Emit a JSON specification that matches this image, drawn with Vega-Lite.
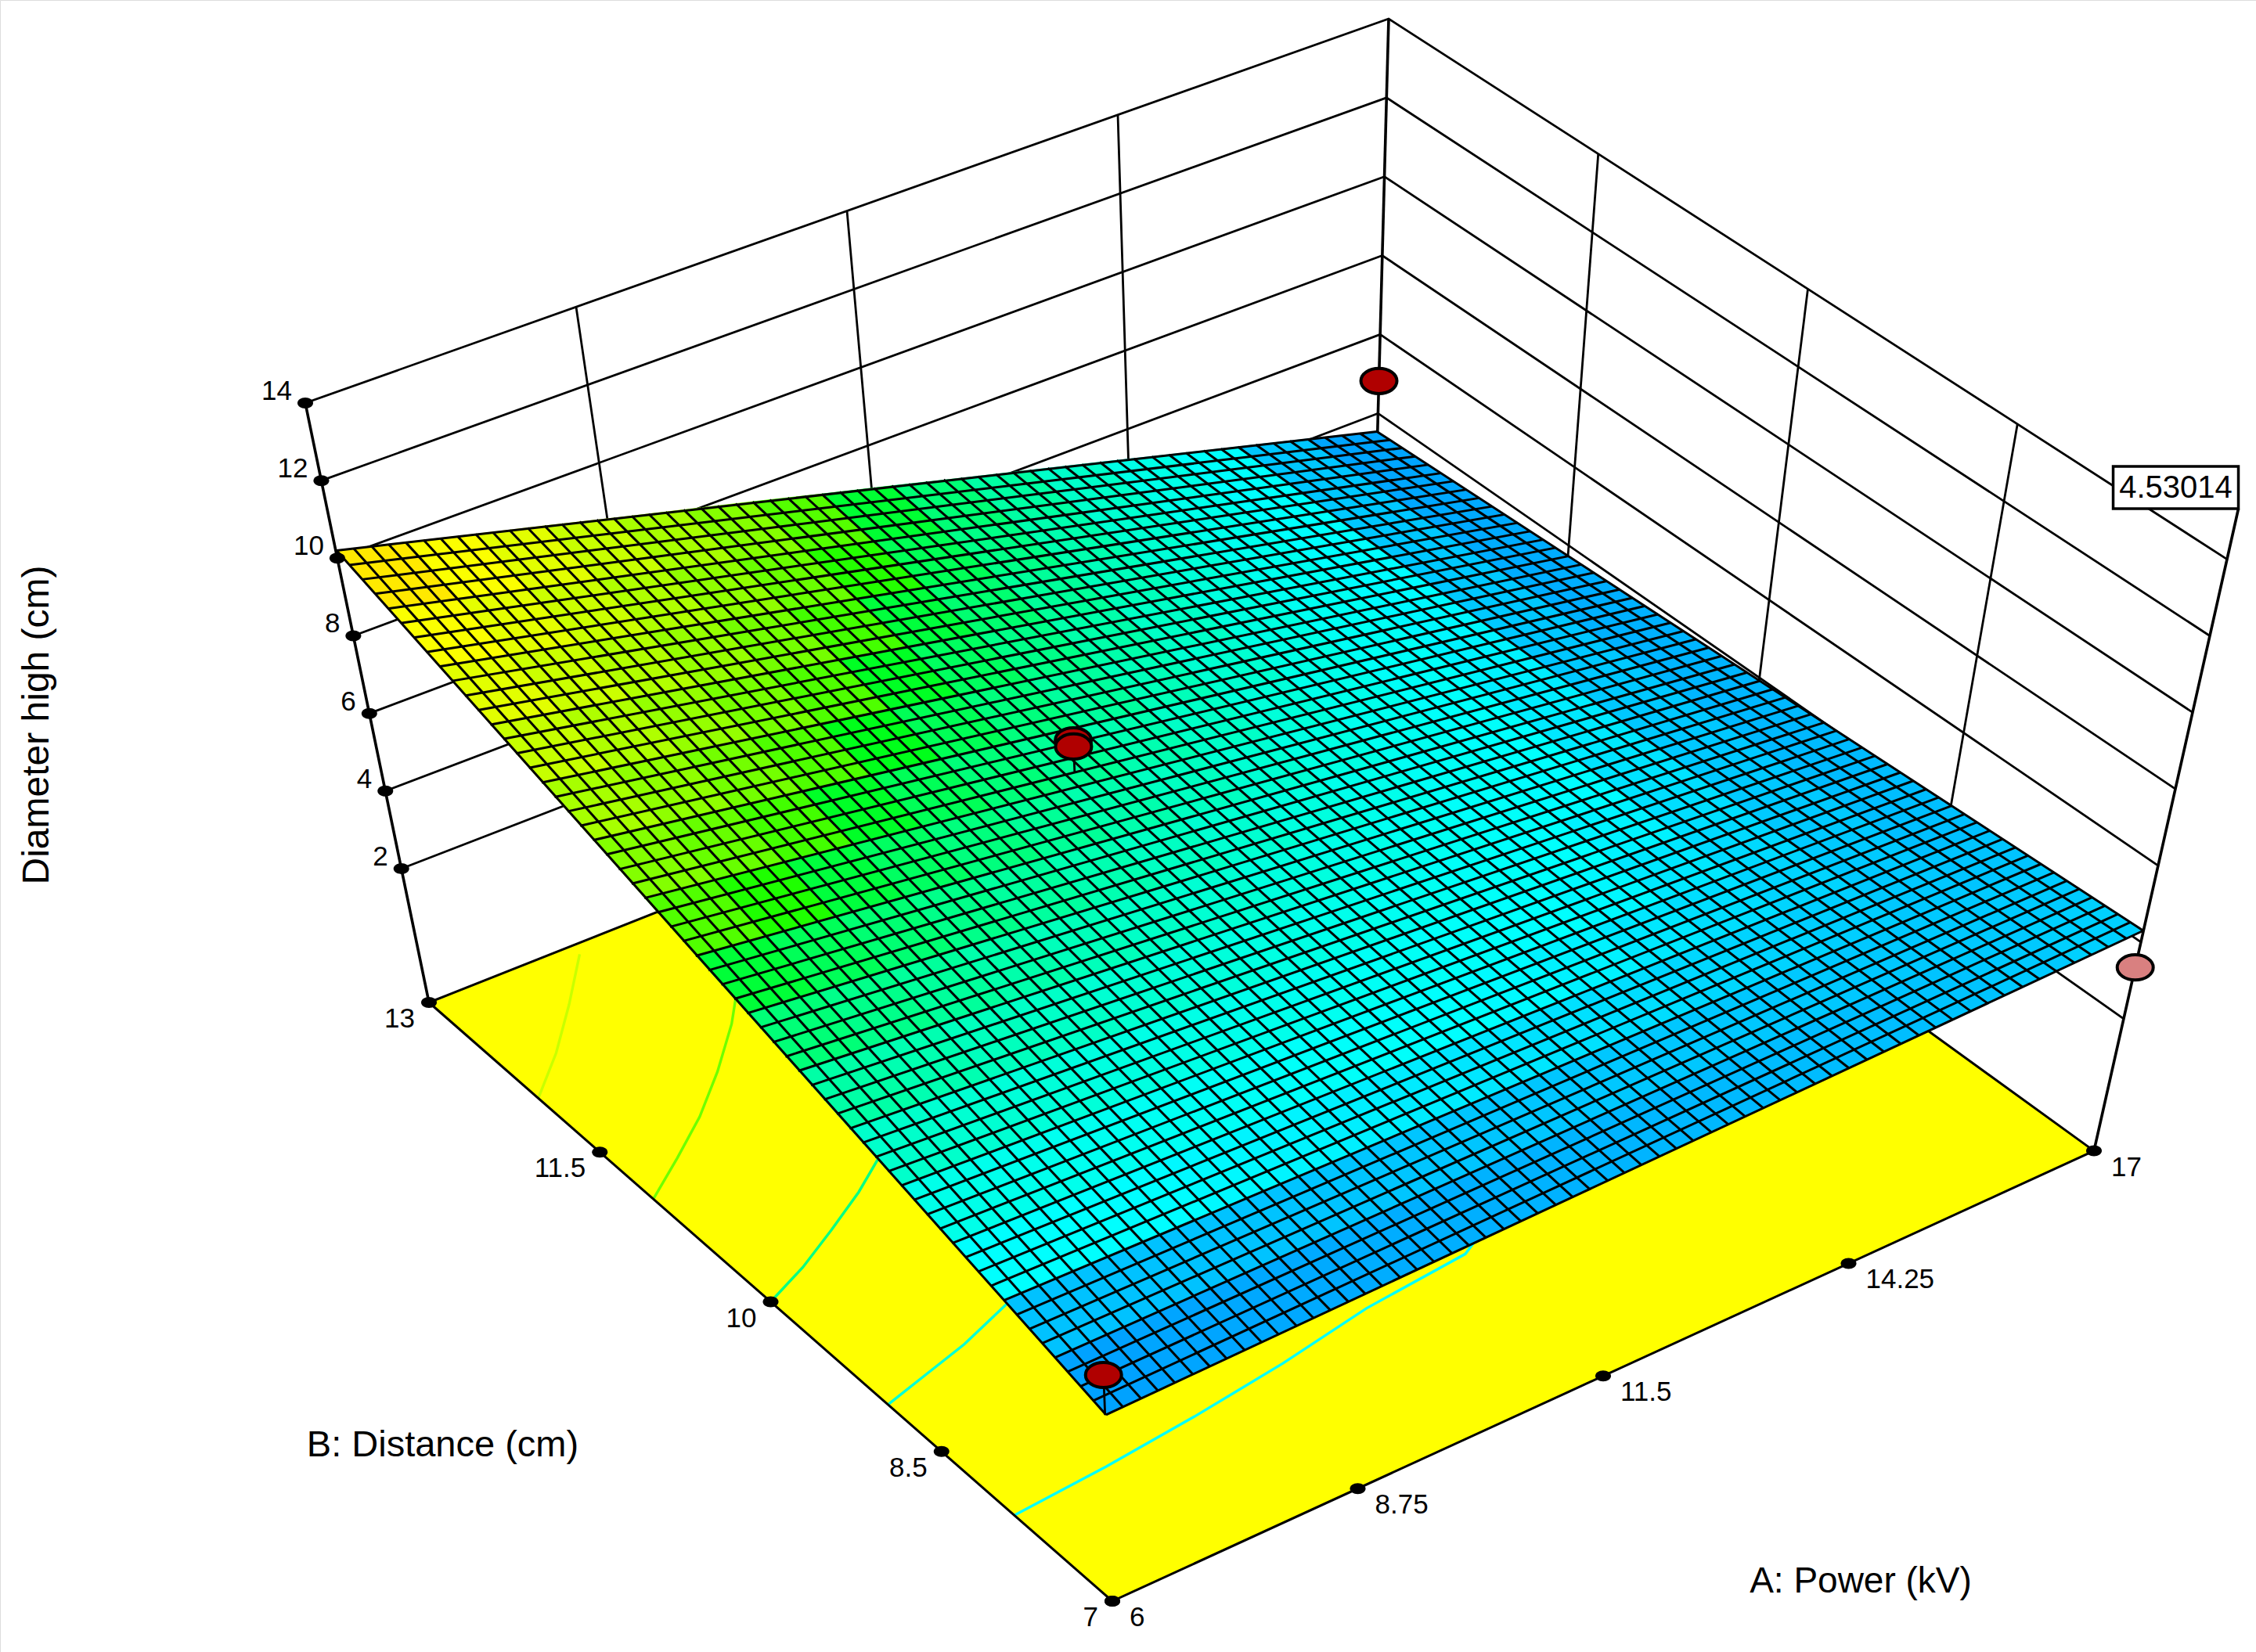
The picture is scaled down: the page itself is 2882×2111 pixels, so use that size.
{"$schema":"https://vega.github.io/schema/vega-lite/v6.json","width":2882,"height":2111,"padding":0,"autosize":{"type":"fit","contains":"padding"},"background":"white",
"datasets":{
"frame":[
{"k":"wall","g":"z14","A":[6,17,17],"B":[13,13,7],"z":[14,14,14]},
{"k":"wall","g":"z12","A":[6,17,17],"B":[13,13,7],"z":[12,12,12]},
{"k":"wall","g":"z10","A":[6,17,17],"B":[13,13,7],"z":[10,10,10]},
{"k":"wall","g":"z8","A":[6,17,17],"B":[13,13,7],"z":[8,8,8]},
{"k":"wall","g":"z6","A":[6,17,17],"B":[13,13,7],"z":[6,6,6]},
{"k":"wall","g":"z4","A":[6,17,17],"B":[13,13,7],"z":[4,4,4]},
{"k":"wall","g":"z2","A":[6,17,17],"B":[13,13,7],"z":[2,2,2]},
{"k":"wall","g":"a1","A":[8.75,8.75],"B":[13,13],"z":[-1.45,14]},
{"k":"wall","g":"a2","A":[11.5,11.5],"B":[13,13],"z":[-1.45,14]},
{"k":"wall","g":"a3","A":[14.25,14.25],"B":[13,13],"z":[-1.45,14]},
{"k":"wall","g":"b1","A":[17,17],"B":[8.5,8.5],"z":[-1.45,14]},
{"k":"wall","g":"b2","A":[17,17],"B":[10,10],"z":[-1.45,14]},
{"k":"wall","g":"b3","A":[17,17],"B":[11.5,11.5],"z":[-1.45,14]},
{"k":"floor","g":"f","A":[6,17,17,6],"B":[7,7,13,13],"z":[-1.45,-1.45,-1.45,-1.45]},
{"k":"cont","g":"c1","c":4.55,"A":[6,7.1,8.2,9.3,10.4,11.61,13.7,14.8],"B":[7.86,7.91,7.98,8.07,8.19,8.26,8.92,10],"z":[-1.45,-1.45,-1.45,-1.45,-1.45,-1.45,-1.45,-1.45]},
{"k":"cont","g":"c2","c":5.3,"A":[6,6.55,7.1,7.65,8.2,10.4],"B":[8.97,9.06,9.15,9.27,9.39,10.13],"z":[-1.45,-1.45,-1.45,-1.45,-1.45,-1.45]},
{"k":"cont","g":"c3","c":6.2,"A":[6,6.55,7.1,7.65,8.2,8.75,9.3],"B":[10,10.14,10.31,10.49,10.7,10.94,11.22],"z":[-1.45,-1.45,-1.45,-1.45,-1.45,-1.45,-1.45]},
{"k":"cont","g":"c4","c":7.4,"A":[6,6.55,7.1,7.65,8.2,8.75,9.3],"B":[11.03,11.24,11.46,11.72,12.01,12.35,12.74],"z":[-1.45,-1.45,-1.45,-1.45,-1.45,-1.45,-1.45]},
{"k":"cont","g":"c5","c":8.5,"A":[6,6.55,7.1,7.65],"B":[12.04,12.3,12.6,12.92],"z":[-1.45,-1.45,-1.45,-1.45]},
{"k":"edge","g":"back","A":[6,17,17],"B":[13,13,7],"z":[-1.45,-1.45,-1.45]},
{"k":"edge","g":"e1","A":[6,17],"B":[7,7],"z":[-1.45,-1.45]},
{"k":"edge","g":"e2","A":[6,6],"B":[7,13],"z":[-1.45,-1.45]},
{"k":"pole","g":"p1","A":[6,6],"B":[13,13],"z":[-1.45,14]},
{"k":"pole","g":"p2","A":[17,17],"B":[13,13],"z":[-1.45,14]},
{"k":"pole","g":"p3","A":[17,17],"B":[7,7],"z":[-1.45,15.32]},
{"k":"drop","g":"d1","A":[6,6],"B":[7,7],"z":[3.5,4.56]},
{"k":"drop","g":"d2","A":[10.57,10.57],"B":[10.72,10.72],"z":[6.07,6.73]}
],
"mesh":[
{"g":"a0","A":[6,6],"B":[7,13],"z":[3.5,10.2]},{"g":"a1","A":[6.18,6.18],"B":[7,13],"z":[3.51,10.09]},{"g":"a2","A":[6.37,6.37],"B":[7,13],"z":[3.53,9.98]},{"g":"a3","A":[6.55,6.55],"B":[7,13],"z":[3.54,9.87]},{"g":"a4","A":[6.73,6.73],"B":[7,13],"z":[3.55,9.76]},{"g":"a5","A":[6.92,6.92],"B":[7,13],"z":[3.57,9.65]},{"g":"a6","A":[7.1,7.1],"B":[7,13],"z":[3.58,9.53]},{"g":"a7","A":[7.28,7.28],"B":[7,13],"z":[3.59,9.42]},{"g":"a8","A":[7.47,7.47],"B":[7,13],"z":[3.61,9.31]},{"g":"a9","A":[7.65,7.65],"B":[7,13],"z":[3.62,9.2]},
{"g":"a10","A":[7.83,7.83],"B":[7,13],"z":[3.63,9.09]},{"g":"a11","A":[8.02,8.02],"B":[7,13],"z":[3.65,8.98]},{"g":"a12","A":[8.2,8.2],"B":[7,13],"z":[3.66,8.87]},{"g":"a13","A":[8.38,8.38],"B":[7,13],"z":[3.67,8.76]},{"g":"a14","A":[8.57,8.57],"B":[7,13],"z":[3.69,8.65]},{"g":"a15","A":[8.75,8.75],"B":[7,13],"z":[3.7,8.54]},{"g":"a16","A":[8.93,8.93],"B":[7,13],"z":[3.71,8.42]},{"g":"a17","A":[9.12,9.12],"B":[7,13],"z":[3.73,8.31]},{"g":"a18","A":[9.3,9.3],"B":[7,13],"z":[3.74,8.2]},{"g":"a19","A":[9.48,9.48],"B":[7,13],"z":[3.75,8.09]},
{"g":"a20","A":[9.67,9.67],"B":[7,13],"z":[3.77,7.98]},{"g":"a21","A":[9.85,9.85],"B":[7,13],"z":[3.78,7.87]},{"g":"a22","A":[10.03,10.03],"B":[7,13],"z":[3.79,7.76]},{"g":"a23","A":[10.22,10.22],"B":[7,13],"z":[3.81,7.65]},{"g":"a24","A":[10.4,10.4],"B":[7,13],"z":[3.82,7.54]},{"g":"a25","A":[10.58,10.58],"B":[7,13],"z":[3.83,7.43]},{"g":"a26","A":[10.77,10.77],"B":[7,13],"z":[3.85,7.31]},{"g":"a27","A":[10.95,10.95],"B":[7,13],"z":[3.86,7.2]},{"g":"a28","A":[11.13,11.13],"B":[7,13],"z":[3.87,7.09]},{"g":"a29","A":[11.32,11.32],"B":[7,13],"z":[3.89,6.98]},
{"g":"a30","A":[11.5,11.5],"B":[7,13],"z":[3.9,6.87]},{"g":"a31","A":[11.68,11.68],"B":[7,13],"z":[3.91,6.76]},{"g":"a32","A":[11.87,11.87],"B":[7,13],"z":[3.93,6.65]},{"g":"a33","A":[12.05,12.05],"B":[7,13],"z":[3.94,6.54]},{"g":"a34","A":[12.23,12.23],"B":[7,13],"z":[3.95,6.43]},{"g":"a35","A":[12.42,12.42],"B":[7,13],"z":[3.97,6.32]},{"g":"a36","A":[12.6,12.6],"B":[7,13],"z":[3.98,6.2]},{"g":"a37","A":[12.78,12.78],"B":[7,13],"z":[3.99,6.09]},{"g":"a38","A":[12.97,12.97],"B":[7,13],"z":[4.01,5.98]},{"g":"a39","A":[13.15,13.15],"B":[7,13],"z":[4.02,5.87]},
{"g":"a40","A":[13.33,13.33],"B":[7,13],"z":[4.03,5.76]},{"g":"a41","A":[13.52,13.52],"B":[7,13],"z":[4.05,5.65]},{"g":"a42","A":[13.7,13.7],"B":[7,13],"z":[4.06,5.54]},{"g":"a43","A":[13.88,13.88],"B":[7,13],"z":[4.07,5.43]},{"g":"a44","A":[14.07,14.07],"B":[7,13],"z":[4.09,5.32]},{"g":"a45","A":[14.25,14.25],"B":[7,13],"z":[4.1,5.21]},{"g":"a46","A":[14.43,14.43],"B":[7,13],"z":[4.11,5.09]},{"g":"a47","A":[14.62,14.62],"B":[7,13],"z":[4.13,4.98]},{"g":"a48","A":[14.8,14.8],"B":[7,13],"z":[4.14,4.87]},{"g":"a49","A":[14.98,14.98],"B":[7,13],"z":[4.15,4.76]},
{"g":"a50","A":[15.17,15.17],"B":[7,13],"z":[4.17,4.65]},{"g":"a51","A":[15.35,15.35],"B":[7,13],"z":[4.18,4.54]},{"g":"a52","A":[15.53,15.53],"B":[7,13],"z":[4.19,4.43]},{"g":"a53","A":[15.72,15.72],"B":[7,13],"z":[4.21,4.32]},{"g":"a54","A":[15.9,15.9],"B":[7,13],"z":[4.22,4.21]},{"g":"a55","A":[16.08,16.08],"B":[7,13],"z":[4.23,4.1]},{"g":"a56","A":[16.27,16.27],"B":[7,13],"z":[4.25,3.98]},{"g":"a57","A":[16.45,16.45],"B":[7,13],"z":[4.26,3.87]},{"g":"a58","A":[16.63,16.63],"B":[7,13],"z":[4.27,3.76]},{"g":"a59","A":[16.82,16.82],"B":[7,13],"z":[4.29,3.65]},{"g":"a60","A":[17,17],"B":[7,13],"z":[4.3,3.54]},
{"g":"b0","A":[6,17],"B":[7,7],"z":[3.5,4.3]},{"g":"b1","A":[6,17],"B":[7.1,7.1],"z":[3.61,4.29]},{"g":"b2","A":[6,17],"B":[7.2,7.2],"z":[3.72,4.27]},{"g":"b3","A":[6,17],"B":[7.3,7.3],"z":[3.84,4.26]},{"g":"b4","A":[6,17],"B":[7.4,7.4],"z":[3.95,4.25]},{"g":"b5","A":[6,17],"B":[7.5,7.5],"z":[4.06,4.24]},{"g":"b6","A":[6,17],"B":[7.6,7.6],"z":[4.17,4.22]},{"g":"b7","A":[6,17],"B":[7.7,7.7],"z":[4.28,4.21]},{"g":"b8","A":[6,17],"B":[7.8,7.8],"z":[4.39,4.2]},{"g":"b9","A":[6,17],"B":[7.9,7.9],"z":[4.51,4.19]},
{"g":"b10","A":[6,17],"B":[8,8],"z":[4.62,4.17]},{"g":"b11","A":[6,17],"B":[8.1,8.1],"z":[4.73,4.16]},{"g":"b12","A":[6,17],"B":[8.2,8.2],"z":[4.84,4.15]},{"g":"b13","A":[6,17],"B":[8.3,8.3],"z":[4.95,4.14]},{"g":"b14","A":[6,17],"B":[8.4,8.4],"z":[5.06,4.12]},{"g":"b15","A":[6,17],"B":[8.5,8.5],"z":[5.18,4.11]},{"g":"b16","A":[6,17],"B":[8.6,8.6],"z":[5.29,4.1]},{"g":"b17","A":[6,17],"B":[8.7,8.7],"z":[5.4,4.08]},{"g":"b18","A":[6,17],"B":[8.8,8.8],"z":[5.51,4.07]},{"g":"b19","A":[6,17],"B":[8.9,8.9],"z":[5.62,4.06]},
{"g":"b20","A":[6,17],"B":[9,9],"z":[5.73,4.05]},{"g":"b21","A":[6,17],"B":[9.1,9.1],"z":[5.85,4.03]},{"g":"b22","A":[6,17],"B":[9.2,9.2],"z":[5.96,4.02]},{"g":"b23","A":[6,17],"B":[9.3,9.3],"z":[6.07,4.01]},{"g":"b24","A":[6,17],"B":[9.4,9.4],"z":[6.18,4]},{"g":"b25","A":[6,17],"B":[9.5,9.5],"z":[6.29,3.98]},{"g":"b26","A":[6,17],"B":[9.6,9.6],"z":[6.4,3.97]},{"g":"b27","A":[6,17],"B":[9.7,9.7],"z":[6.52,3.96]},{"g":"b28","A":[6,17],"B":[9.8,9.8],"z":[6.63,3.95]},{"g":"b29","A":[6,17],"B":[9.9,9.9],"z":[6.74,3.93]},
{"g":"b30","A":[6,17],"B":[10,10],"z":[6.85,3.92]},{"g":"b31","A":[6,17],"B":[10.1,10.1],"z":[6.96,3.91]},{"g":"b32","A":[6,17],"B":[10.2,10.2],"z":[7.07,3.89]},{"g":"b33","A":[6,17],"B":[10.3,10.3],"z":[7.19,3.88]},{"g":"b34","A":[6,17],"B":[10.4,10.4],"z":[7.3,3.87]},{"g":"b35","A":[6,17],"B":[10.5,10.5],"z":[7.41,3.86]},{"g":"b36","A":[6,17],"B":[10.6,10.6],"z":[7.52,3.84]},{"g":"b37","A":[6,17],"B":[10.7,10.7],"z":[7.63,3.83]},{"g":"b38","A":[6,17],"B":[10.8,10.8],"z":[7.74,3.82]},{"g":"b39","A":[6,17],"B":[10.9,10.9],"z":[7.86,3.81]},
{"g":"b40","A":[6,17],"B":[11,11],"z":[7.97,3.79]},{"g":"b41","A":[6,17],"B":[11.1,11.1],"z":[8.08,3.78]},{"g":"b42","A":[6,17],"B":[11.2,11.2],"z":[8.19,3.77]},{"g":"b43","A":[6,17],"B":[11.3,11.3],"z":[8.3,3.76]},{"g":"b44","A":[6,17],"B":[11.4,11.4],"z":[8.41,3.74]},{"g":"b45","A":[6,17],"B":[11.5,11.5],"z":[8.53,3.73]},{"g":"b46","A":[6,17],"B":[11.6,11.6],"z":[8.64,3.72]},{"g":"b47","A":[6,17],"B":[11.7,11.7],"z":[8.75,3.7]},{"g":"b48","A":[6,17],"B":[11.8,11.8],"z":[8.86,3.69]},{"g":"b49","A":[6,17],"B":[11.9,11.9],"z":[8.97,3.68]},
{"g":"b50","A":[6,17],"B":[12,12],"z":[9.08,3.67]},{"g":"b51","A":[6,17],"B":[12.1,12.1],"z":[9.2,3.65]},{"g":"b52","A":[6,17],"B":[12.2,12.2],"z":[9.31,3.64]},{"g":"b53","A":[6,17],"B":[12.3,12.3],"z":[9.42,3.63]},{"g":"b54","A":[6,17],"B":[12.4,12.4],"z":[9.53,3.62]},{"g":"b55","A":[6,17],"B":[12.5,12.5],"z":[9.64,3.6]},{"g":"b56","A":[6,17],"B":[12.6,12.6],"z":[9.75,3.59]},{"g":"b57","A":[6,17],"B":[12.7,12.7],"z":[9.87,3.58]},{"g":"b58","A":[6,17],"B":[12.8,12.8],"z":[9.98,3.57]},{"g":"b59","A":[6,17],"B":[12.9,12.9],"z":[10.09,3.55]},{"g":"b60","A":[6,17],"B":[13,13],"z":[10.2,3.54]}
],
"cells":[
{"a":6,"b":7,"z":[3.5,3.55,3.97,3.95]},{"a":6,"b":7.4,"z":[3.95,3.97,4.38,4.39]},{"a":6,"b":7.8,"z":[4.39,4.38,4.79,4.84]},{"a":6,"b":8.2,"z":[4.84,4.79,5.21,5.29]},{"a":6,"b":8.6,"z":[5.29,5.21,5.62,5.73]},{"a":6,"b":9,"z":[5.73,5.62,6.03,6.18]},{"a":6,"b":9.4,"z":[6.18,6.03,6.45,6.63]},{"a":6,"b":9.8,"z":[6.63,6.45,6.86,7.07]},{"a":6,"b":10.2,"z":[7.07,6.86,7.27,7.52]},{"a":6,"b":10.6,"z":[7.52,7.27,7.69,7.97]},{"a":6,"b":11,"z":[7.97,7.69,8.1,8.41]},{"a":6,"b":11.4,"z":[8.41,8.1,8.52,8.86]},{"a":6,"b":11.8,"z":[8.86,8.52,8.93,9.31]},{"a":6,"b":12.2,"z":[9.31,8.93,9.34,9.75]},{"a":6,"b":12.6,"z":[9.75,9.34,9.76,10.2]},
{"a":6.733,"b":7,"z":[3.55,3.61,3.99,3.97]},{"a":6.733,"b":7.4,"z":[3.97,3.99,4.37,4.38]},{"a":6.733,"b":7.8,"z":[4.38,4.37,4.75,4.79]},{"a":6.733,"b":8.2,"z":[4.79,4.75,5.13,5.21]},{"a":6.733,"b":8.6,"z":[5.21,5.13,5.51,5.62]},{"a":6.733,"b":9,"z":[5.62,5.51,5.89,6.03]},{"a":6.733,"b":9.4,"z":[6.03,5.89,6.27,6.45]},{"a":6.733,"b":9.8,"z":[6.45,6.27,6.65,6.86]},{"a":6.733,"b":10.2,"z":[6.86,6.65,7.03,7.27]},{"a":6.733,"b":10.6,"z":[7.27,7.03,7.41,7.69]},{"a":6.733,"b":11,"z":[7.69,7.41,7.79,8.1]},{"a":6.733,"b":11.4,"z":[8.1,7.79,8.17,8.52]},{"a":6.733,"b":11.8,"z":[8.52,8.17,8.55,8.93]},{"a":6.733,"b":12.2,"z":[8.93,8.55,8.93,9.34]},{"a":6.733,"b":12.6,"z":[9.34,8.93,9.31,9.76]},
{"a":7.467,"b":7,"z":[3.61,3.66,4.01,3.99]},{"a":7.467,"b":7.4,"z":[3.99,4.01,4.35,4.37]},{"a":7.467,"b":7.8,"z":[4.37,4.35,4.7,4.75]},{"a":7.467,"b":8.2,"z":[4.75,4.7,5.05,5.13]},{"a":7.467,"b":8.6,"z":[5.13,5.05,5.4,5.51]},{"a":7.467,"b":9,"z":[5.51,5.4,5.74,5.89]},{"a":7.467,"b":9.4,"z":[5.89,5.74,6.09,6.27]},{"a":7.467,"b":9.8,"z":[6.27,6.09,6.44,6.65]},{"a":7.467,"b":10.2,"z":[6.65,6.44,6.78,7.03]},{"a":7.467,"b":10.6,"z":[7.03,6.78,7.13,7.41]},{"a":7.467,"b":11,"z":[7.41,7.13,7.48,7.79]},{"a":7.467,"b":11.4,"z":[7.79,7.48,7.83,8.17]},{"a":7.467,"b":11.8,"z":[8.17,7.83,8.17,8.55]},{"a":7.467,"b":12.2,"z":[8.55,8.17,8.52,8.93]},{"a":7.467,"b":12.6,"z":[8.93,8.52,8.87,9.31]},
{"a":8.2,"b":7,"z":[3.66,3.71,4.03,4.01]},{"a":8.2,"b":7.4,"z":[4.01,4.03,4.34,4.35]},{"a":8.2,"b":7.8,"z":[4.35,4.34,4.66,4.7]},{"a":8.2,"b":8.2,"z":[4.7,4.66,4.97,5.05]},{"a":8.2,"b":8.6,"z":[5.05,4.97,5.28,5.4]},{"a":8.2,"b":9,"z":[5.4,5.28,5.6,5.74]},{"a":8.2,"b":9.4,"z":[5.74,5.6,5.91,6.09]},{"a":8.2,"b":9.8,"z":[6.09,5.91,6.23,6.44]},{"a":8.2,"b":10.2,"z":[6.44,6.23,6.54,6.78]},{"a":8.2,"b":10.6,"z":[6.78,6.54,6.85,7.13]},{"a":8.2,"b":11,"z":[7.13,6.85,7.17,7.48]},{"a":8.2,"b":11.4,"z":[7.48,7.17,7.48,7.83]},{"a":8.2,"b":11.8,"z":[7.83,7.48,7.8,8.17]},{"a":8.2,"b":12.2,"z":[8.17,7.8,8.11,8.52]},{"a":8.2,"b":12.6,"z":[8.52,8.11,8.42,8.87]},
{"a":8.933,"b":7,"z":[3.71,3.77,4.05,4.03]},{"a":8.933,"b":7.4,"z":[4.03,4.05,4.33,4.34]},{"a":8.933,"b":7.8,"z":[4.34,4.33,4.61,4.66]},{"a":8.933,"b":8.2,"z":[4.66,4.61,4.89,4.97]},{"a":8.933,"b":8.6,"z":[4.97,4.89,5.17,5.28]},{"a":8.933,"b":9,"z":[5.28,5.17,5.45,5.6]},{"a":8.933,"b":9.4,"z":[5.6,5.45,5.73,5.91]},{"a":8.933,"b":9.8,"z":[5.91,5.73,6.01,6.23]},{"a":8.933,"b":10.2,"z":[6.23,6.01,6.3,6.54]},{"a":8.933,"b":10.6,"z":[6.54,6.3,6.58,6.85]},{"a":8.933,"b":11,"z":[6.85,6.58,6.86,7.17]},{"a":8.933,"b":11.4,"z":[7.17,6.86,7.14,7.48]},{"a":8.933,"b":11.8,"z":[7.48,7.14,7.42,7.8]},{"a":8.933,"b":12.2,"z":[7.8,7.42,7.7,8.11]},{"a":8.933,"b":12.6,"z":[8.11,7.7,7.98,8.42]},
{"a":9.667,"b":7,"z":[3.77,3.82,4.07,4.05]},{"a":9.667,"b":7.4,"z":[4.05,4.07,4.32,4.33]},{"a":9.667,"b":7.8,"z":[4.33,4.32,4.56,4.61]},{"a":9.667,"b":8.2,"z":[4.61,4.56,4.81,4.89]},{"a":9.667,"b":8.6,"z":[4.89,4.81,5.06,5.17]},{"a":9.667,"b":9,"z":[5.17,5.06,5.31,5.45]},{"a":9.667,"b":9.4,"z":[5.45,5.31,5.55,5.73]},{"a":9.667,"b":9.8,"z":[5.73,5.55,5.8,6.01]},{"a":9.667,"b":10.2,"z":[6.01,5.8,6.05,6.3]},{"a":9.667,"b":10.6,"z":[6.3,6.05,6.3,6.58]},{"a":9.667,"b":11,"z":[6.58,6.3,6.55,6.86]},{"a":9.667,"b":11.4,"z":[6.86,6.55,6.79,7.14]},{"a":9.667,"b":11.8,"z":[7.14,6.79,7.04,7.42]},{"a":9.667,"b":12.2,"z":[7.42,7.04,7.29,7.7]},{"a":9.667,"b":12.6,"z":[7.7,7.29,7.54,7.98]},
{"a":10.4,"b":7,"z":[3.82,3.87,4.09,4.07]},{"a":10.4,"b":7.4,"z":[4.07,4.09,4.3,4.32]},{"a":10.4,"b":7.8,"z":[4.32,4.3,4.52,4.56]},{"a":10.4,"b":8.2,"z":[4.56,4.52,4.73,4.81]},{"a":10.4,"b":8.6,"z":[4.81,4.73,4.95,5.06]},{"a":10.4,"b":9,"z":[5.06,4.95,5.16,5.31]},{"a":10.4,"b":9.4,"z":[5.31,5.16,5.38,5.55]},{"a":10.4,"b":9.8,"z":[5.55,5.38,5.59,5.8]},{"a":10.4,"b":10.2,"z":[5.8,5.59,5.8,6.05]},{"a":10.4,"b":10.6,"z":[6.05,5.8,6.02,6.3]},{"a":10.4,"b":11,"z":[6.3,6.02,6.23,6.55]},{"a":10.4,"b":11.4,"z":[6.55,6.23,6.45,6.79]},{"a":10.4,"b":11.8,"z":[6.79,6.45,6.66,7.04]},{"a":10.4,"b":12.2,"z":[7.04,6.66,6.88,7.29]},{"a":10.4,"b":12.6,"z":[7.29,6.88,7.09,7.54]},
{"a":11.133,"b":7,"z":[3.87,3.93,4.11,4.09]},{"a":11.133,"b":7.4,"z":[4.09,4.11,4.29,4.3]},{"a":11.133,"b":7.8,"z":[4.3,4.29,4.47,4.52]},{"a":11.133,"b":8.2,"z":[4.52,4.47,4.65,4.73]},{"a":11.133,"b":8.6,"z":[4.73,4.65,4.83,4.95]},{"a":11.133,"b":9,"z":[4.95,4.83,5.02,5.16]},{"a":11.133,"b":9.4,"z":[5.16,5.02,5.2,5.38]},{"a":11.133,"b":9.8,"z":[5.38,5.2,5.38,5.59]},{"a":11.133,"b":10.2,"z":[5.59,5.38,5.56,5.8]},{"a":11.133,"b":10.6,"z":[5.8,5.56,5.74,6.02]},{"a":11.133,"b":11,"z":[6.02,5.74,5.92,6.23]},{"a":11.133,"b":11.4,"z":[6.23,5.92,6.11,6.45]},{"a":11.133,"b":11.8,"z":[6.45,6.11,6.29,6.66]},{"a":11.133,"b":12.2,"z":[6.66,6.29,6.47,6.88]},{"a":11.133,"b":12.6,"z":[6.88,6.47,6.65,7.09]},
{"a":11.867,"b":7,"z":[3.93,3.98,4.13,4.11]},{"a":11.867,"b":7.4,"z":[4.11,4.13,4.28,4.29]},{"a":11.867,"b":7.8,"z":[4.29,4.28,4.42,4.47]},{"a":11.867,"b":8.2,"z":[4.47,4.42,4.57,4.65]},{"a":11.867,"b":8.6,"z":[4.65,4.57,4.72,4.83]},{"a":11.867,"b":9,"z":[4.83,4.72,4.87,5.02]},{"a":11.867,"b":9.4,"z":[5.02,4.87,5.02,5.2]},{"a":11.867,"b":9.8,"z":[5.2,5.02,5.17,5.38]},{"a":11.867,"b":10.2,"z":[5.38,5.17,5.31,5.56]},{"a":11.867,"b":10.6,"z":[5.56,5.31,5.46,5.74]},{"a":11.867,"b":11,"z":[5.74,5.46,5.61,5.92]},{"a":11.867,"b":11.4,"z":[5.92,5.61,5.76,6.11]},{"a":11.867,"b":11.8,"z":[6.11,5.76,5.91,6.29]},{"a":11.867,"b":12.2,"z":[6.29,5.91,6.06,6.47]},{"a":11.867,"b":12.6,"z":[6.47,6.06,6.2,6.65]},
{"a":12.6,"b":7,"z":[3.98,4.03,4.15,4.13]},{"a":12.6,"b":7.4,"z":[4.13,4.15,4.26,4.28]},{"a":12.6,"b":7.8,"z":[4.28,4.26,4.38,4.42]},{"a":12.6,"b":8.2,"z":[4.42,4.38,4.49,4.57]},{"a":12.6,"b":8.6,"z":[4.57,4.49,4.61,4.72]},{"a":12.6,"b":9,"z":[4.72,4.61,4.72,4.87]},{"a":12.6,"b":9.4,"z":[4.87,4.72,4.84,5.02]},{"a":12.6,"b":9.8,"z":[5.02,4.84,4.95,5.17]},{"a":12.6,"b":10.2,"z":[5.17,4.95,5.07,5.31]},{"a":12.6,"b":10.6,"z":[5.31,5.07,5.19,5.46]},{"a":12.6,"b":11,"z":[5.46,5.19,5.3,5.61]},{"a":12.6,"b":11.4,"z":[5.61,5.3,5.42,5.76]},{"a":12.6,"b":11.8,"z":[5.76,5.42,5.53,5.91]},{"a":12.6,"b":12.2,"z":[5.91,5.53,5.65,6.06]},{"a":12.6,"b":12.6,"z":[6.06,5.65,5.76,6.2]},
{"a":13.333,"b":7,"z":[4.03,4.09,4.17,4.15]},{"a":13.333,"b":7.4,"z":[4.15,4.17,4.25,4.26]},{"a":13.333,"b":7.8,"z":[4.26,4.25,4.33,4.38]},{"a":13.333,"b":8.2,"z":[4.38,4.33,4.41,4.49]},{"a":13.333,"b":8.6,"z":[4.49,4.41,4.5,4.61]},{"a":13.333,"b":9,"z":[4.61,4.5,4.58,4.72]},{"a":13.333,"b":9.4,"z":[4.72,4.58,4.66,4.84]},{"a":13.333,"b":9.8,"z":[4.84,4.66,4.74,4.95]},{"a":13.333,"b":10.2,"z":[4.95,4.74,4.82,5.07]},{"a":13.333,"b":10.6,"z":[5.07,4.82,4.91,5.19]},{"a":13.333,"b":11,"z":[5.19,4.91,4.99,5.3]},{"a":13.333,"b":11.4,"z":[5.3,4.99,5.07,5.42]},{"a":13.333,"b":11.8,"z":[5.42,5.07,5.15,5.53]},{"a":13.333,"b":12.2,"z":[5.53,5.15,5.23,5.65]},{"a":13.333,"b":12.6,"z":[5.65,5.23,5.32,5.76]},
{"a":14.067,"b":7,"z":[4.09,4.14,4.19,4.17]},{"a":14.067,"b":7.4,"z":[4.17,4.19,4.24,4.25]},{"a":14.067,"b":7.8,"z":[4.25,4.24,4.29,4.33]},{"a":14.067,"b":8.2,"z":[4.33,4.29,4.34,4.41]},{"a":14.067,"b":8.6,"z":[4.41,4.34,4.38,4.5]},{"a":14.067,"b":9,"z":[4.5,4.38,4.43,4.58]},{"a":14.067,"b":9.4,"z":[4.58,4.43,4.48,4.66]},{"a":14.067,"b":9.8,"z":[4.66,4.48,4.53,4.74]},{"a":14.067,"b":10.2,"z":[4.74,4.53,4.58,4.82]},{"a":14.067,"b":10.6,"z":[4.82,4.58,4.63,4.91]},{"a":14.067,"b":11,"z":[4.91,4.63,4.68,4.99]},{"a":14.067,"b":11.4,"z":[4.99,4.68,4.73,5.07]},{"a":14.067,"b":11.8,"z":[5.07,4.73,4.78,5.15]},{"a":14.067,"b":12.2,"z":[5.15,4.78,4.82,5.23]},{"a":14.067,"b":12.6,"z":[5.23,4.82,4.87,5.32]},
{"a":14.8,"b":7,"z":[4.14,4.19,4.21,4.19]},{"a":14.8,"b":7.4,"z":[4.19,4.21,4.22,4.24]},{"a":14.8,"b":7.8,"z":[4.24,4.22,4.24,4.29]},{"a":14.8,"b":8.2,"z":[4.29,4.24,4.26,4.34]},{"a":14.8,"b":8.6,"z":[4.34,4.26,4.27,4.38]},{"a":14.8,"b":9,"z":[4.38,4.27,4.29,4.43]},{"a":14.8,"b":9.4,"z":[4.43,4.29,4.3,4.48]},{"a":14.8,"b":9.8,"z":[4.48,4.3,4.32,4.53]},{"a":14.8,"b":10.2,"z":[4.53,4.32,4.33,4.58]},{"a":14.8,"b":10.6,"z":[4.58,4.33,4.35,4.63]},{"a":14.8,"b":11,"z":[4.63,4.35,4.37,4.68]},{"a":14.8,"b":11.4,"z":[4.68,4.37,4.38,4.73]},{"a":14.8,"b":11.8,"z":[4.73,4.38,4.4,4.78]},{"a":14.8,"b":12.2,"z":[4.78,4.4,4.41,4.82]},{"a":14.8,"b":12.6,"z":[4.82,4.41,4.43,4.87]},
{"a":15.533,"b":7,"z":[4.19,4.25,4.23,4.21]},{"a":15.533,"b":7.4,"z":[4.21,4.23,4.21,4.22]},{"a":15.533,"b":7.8,"z":[4.22,4.21,4.19,4.24]},{"a":15.533,"b":8.2,"z":[4.24,4.19,4.18,4.26]},{"a":15.533,"b":8.6,"z":[4.26,4.18,4.16,4.27]},{"a":15.533,"b":9,"z":[4.27,4.16,4.14,4.29]},{"a":15.533,"b":9.4,"z":[4.29,4.14,4.12,4.3]},{"a":15.533,"b":9.8,"z":[4.3,4.12,4.11,4.32]},{"a":15.533,"b":10.2,"z":[4.32,4.11,4.09,4.33]},{"a":15.533,"b":10.6,"z":[4.33,4.09,4.07,4.35]},{"a":15.533,"b":11,"z":[4.35,4.07,4.06,4.37]},{"a":15.533,"b":11.4,"z":[4.37,4.06,4.04,4.38]},{"a":15.533,"b":11.8,"z":[4.38,4.04,4.02,4.4]},{"a":15.533,"b":12.2,"z":[4.4,4.02,4,4.41]},{"a":15.533,"b":12.6,"z":[4.41,4,3.99,4.43]},
{"a":16.267,"b":7,"z":[4.25,4.3,4.25,4.23]},{"a":16.267,"b":7.4,"z":[4.23,4.25,4.2,4.21]},{"a":16.267,"b":7.8,"z":[4.21,4.2,4.15,4.19]},{"a":16.267,"b":8.2,"z":[4.19,4.15,4.1,4.18]},{"a":16.267,"b":8.6,"z":[4.18,4.1,4.05,4.16]},{"a":16.267,"b":9,"z":[4.16,4.05,4,4.14]},{"a":16.267,"b":9.4,"z":[4.14,4,3.95,4.12]},{"a":16.267,"b":9.8,"z":[4.12,3.95,3.9,4.11]},{"a":16.267,"b":10.2,"z":[4.11,3.9,3.85,4.09]},{"a":16.267,"b":10.6,"z":[4.09,3.85,3.79,4.07]},{"a":16.267,"b":11,"z":[4.07,3.79,3.74,4.06]},{"a":16.267,"b":11.4,"z":[4.06,3.74,3.69,4.04]},{"a":16.267,"b":11.8,"z":[4.04,3.69,3.64,4.02]},{"a":16.267,"b":12.2,"z":[4.02,3.64,3.59,4]},{"a":16.267,"b":12.6,"z":[4,3.59,3.54,3.99]}
],
"pts":[
{"k":"zt","A":6,"B":13,"z":14,"label":"14"},{"k":"zt","A":6,"B":13,"z":12,"label":"12"},{"k":"zt","A":6,"B":13,"z":10,"label":"10"},{"k":"zt","A":6,"B":13,"z":8,"label":"8"},{"k":"zt","A":6,"B":13,"z":6,"label":"6"},{"k":"zt","A":6,"B":13,"z":4,"label":"4"},{"k":"zt","A":6,"B":13,"z":2,"label":"2"},
{"k":"bt","A":6,"B":13,"z":-1.45,"label":"13"},{"k":"bt","A":6,"B":11.5,"z":-1.45,"label":"11.5"},{"k":"bt","A":6,"B":10,"z":-1.45,"label":"10"},{"k":"bt","A":6,"B":8.5,"z":-1.45,"label":"8.5"},{"k":"bt","A":6,"B":7,"z":-1.45,"label":"7"},
{"k":"at","A":6,"B":7,"z":-1.45,"label":"6"},{"k":"at","A":8.75,"B":7,"z":-1.45,"label":"8.75"},{"k":"at","A":11.5,"B":7,"z":-1.45,"label":"11.5"},{"k":"at","A":14.25,"B":7,"z":-1.45,"label":"14.25"},{"k":"at","A":17,"B":7,"z":-1.45,"label":"17"},
{"k":"red","A":6,"B":7,"z":4.56},{"k":"red","A":17,"B":13,"z":4.82},{"k":"red","A":10.57,"B":10.72,"z":6.89},{"k":"red","A":10.57,"B":10.72,"z":6.73},
{"k":"pink","A":17,"B":7,"z":3.34},
{"k":"box","A":17,"B":7,"z":15.32,"label":"4.53014"},
{"k":"tb","A":6,"B":10,"z":-1.45,"label":"B: Distance (cm)"},
{"k":"ta","A":11.5,"B":7,"z":-1.45,"label":"A: Power (kV)"},
{"k":"tz","A":6,"B":13,"z":8,"label":"Diameter high (cm)"}
]},
"encoding":{
"x":{"field":"sx","type":"quantitative","axis":null,"scale":{"domain":[0,2882],"nice":false,"zero":false}},
"y":{"field":"sy","type":"quantitative","axis":null,"scale":{"domain":[2111,0],"nice":false,"zero":false}}
},
"layer":[
{"data":{"name":"frame"},
"transform":[{"flatten":["A","B","z"]},
{"calculate":"(datum.A-6)/11","as":"u"},{"calculate":"(datum.B-7)/6","as":"v"},{"calculate":"(datum.z+1.45)/15.45","as":"t"},
{"calculate":"1421+1254*datum.u-873*datum.v-49*datum.u*datum.v+datum.t*(-29+199*datum.u-129*datum.v-20*datum.u*datum.v)","as":"sx"},
{"calculate":"2046-575.4*datum.u-765*datum.v+97.4*datum.u*datum.v+datum.t*(-743-13*datum.u-23*datum.v)","as":"sy"}],
"layer":[
{"transform":[{"filter":"datum.k==='wall'"}],"mark":{"type":"line","order":false,"color":"black","strokeWidth":2.8},"encoding":{"detail":{"field":"g"}}},
{"transform":[{"filter":"datum.k==='floor'"}],"mark":{"type":"line","order":false,"fill":"#FFFF00","stroke":"#FFFF00","strokeWidth":1},"encoding":{"detail":{"field":"g"}}},
{"transform":[{"filter":"datum.k==='cont'"}],"mark":{"type":"line","order":false,"strokeWidth":3.4},"encoding":{"detail":{"field":"g"},"stroke":{"field":"c","type":"quantitative","legend":null,"scale":{"domain":[2.07,3.5,4.15,4.55,6.9,9.4,12.3],"range":["#0000FF","#0090FF","#00BFFF","#00FFFF","#00FF00","#FFFF00","#FF0000"]}}}},
{"transform":[{"filter":"datum.k==='edge'"}],"mark":{"type":"line","order":false,"color":"black","strokeWidth":3},"encoding":{"detail":{"field":"g"}}},
{"transform":[{"filter":"datum.k==='pole'"}],"mark":{"type":"line","order":false,"color":"black","strokeWidth":3.6},"encoding":{"detail":{"field":"g"}}}
]},
{"data":{"name":"cells"},
"transform":[{"calculate":"(datum.z[0]+datum.z[2])/2","as":"m"},{"calculate":"datum.a+'_'+datum.b","as":"id"},{"flatten":["z"]},
{"window":[{"op":"row_number","as":"i"}],"groupby":["id"]},
{"calculate":"(datum.a+(datum.i==2||datum.i==3?0.7333:0)-6)/11","as":"u"},{"calculate":"(datum.b+(datum.i>=3?0.4:0)-7)/6","as":"v"},{"calculate":"(datum.z+1.45)/15.45","as":"t"},
{"calculate":"1413+1325*datum.u-983*datum.v+4*datum.u*datum.v","as":"sx"},
{"calculate":"2046-575.4*datum.u-765*datum.v+97.4*datum.u*datum.v+datum.t*(-743-13*datum.u-23*datum.v)","as":"sy"}],
"mark":{"type":"line","strokeWidth":1},
"encoding":{"detail":{"field":"id"},"order":{"field":"i","type":"quantitative"},
"fill":{"field":"m","type":"quantitative","legend":null,"scale":{"domain":[2.07,3.5,4.15,4.55,6.9,9.4,12.3],"range":["#0000FF","#0090FF","#00BFFF","#00FFFF","#00FF00","#FFFF00","#FF0000"]}},
"stroke":{"field":"m","type":"quantitative","legend":null,"scale":{"domain":[2.07,3.5,4.15,4.55,6.9,9.4,12.3],"range":["#0000FF","#0090FF","#00BFFF","#00FFFF","#00FF00","#FFFF00","#FF0000"]}}}},
{"data":{"name":"mesh"},
"transform":[{"flatten":["A","B","z"]},
{"calculate":"(datum.A-6)/11","as":"u"},{"calculate":"(datum.B-7)/6","as":"v"},{"calculate":"(datum.z+1.45)/15.45","as":"t"},
{"calculate":"1413+1325*datum.u-983*datum.v+4*datum.u*datum.v","as":"sx"},
{"calculate":"2046-575.4*datum.u-765*datum.v+97.4*datum.u*datum.v+datum.t*(-743-13*datum.u-23*datum.v)","as":"sy"}],
"mark":{"type":"line","order":false,"color":"black","strokeWidth":3},"encoding":{"detail":{"field":"g"}}},
{"data":{"name":"frame"},
"transform":[{"filter":"datum.k==='drop'"},{"flatten":["A","B","z"]},
{"calculate":"(datum.A-6)/11","as":"u"},{"calculate":"(datum.B-7)/6","as":"v"},{"calculate":"(datum.z+1.45)/15.45","as":"t"},
{"calculate":"1421+1254*datum.u-873*datum.v-49*datum.u*datum.v+datum.t*(-29+199*datum.u-129*datum.v-20*datum.u*datum.v)","as":"sx"},
{"calculate":"2046-575.4*datum.u-765*datum.v+97.4*datum.u*datum.v+datum.t*(-743-13*datum.u-23*datum.v)","as":"sy"}],
"mark":{"type":"line","order":false,"color":"black","strokeWidth":2.8},"encoding":{"detail":{"field":"g"}}},
{"data":{"name":"pts"},
"transform":[
{"calculate":"(datum.A-6)/11","as":"u"},{"calculate":"(datum.B-7)/6","as":"v"},{"calculate":"(datum.z+1.45)/15.45","as":"t"},
{"calculate":"1421+1254*datum.u-873*datum.v-49*datum.u*datum.v+datum.t*(-29+199*datum.u-129*datum.v-20*datum.u*datum.v)","as":"sx"},
{"calculate":"2046-575.4*datum.u-765*datum.v+97.4*datum.u*datum.v+datum.t*(-743-13*datum.u-23*datum.v)","as":"sy"}],
"layer":[
{"transform":[{"filter":"datum.k==='zt'||datum.k==='bt'||datum.k==='at'"}],"mark":{"type":"point","filled":true,"opacity":1,"color":"black","shape":"M-1,0A1,0.7 0 1,0 1,0A1,0.7 0 1,0 -1,0Z","size":400}},
{"transform":[{"filter":"datum.k==='red'"}],"mark":{"type":"point","filled":true,"opacity":1,"fill":"#B00000","stroke":"black","strokeWidth":4,"shape":"M-1,0A1,0.7 0 1,0 1,0A1,0.7 0 1,0 -1,0Z","size":2116}},
{"transform":[{"filter":"datum.k==='pink'"}],"mark":{"type":"point","filled":true,"opacity":1,"fill":"#D98080","stroke":"black","strokeWidth":4,"shape":"M-1,0A1,0.7 0 1,0 1,0A1,0.7 0 1,0 -1,0Z","size":2116}},
{"transform":[{"filter":"datum.k==='box'"}],"mark":{"type":"point","filled":true,"opacity":1,"fill":"white","stroke":"black","strokeWidth":3.5,"shape":"M-2,-0.675H0V0H-2Z","size":25600}},
{"transform":[{"filter":"datum.k==='box'"}],"mark":{"type":"text","font":"Liberation Sans","fontSize":40,"align":"center","baseline":"middle","dx":-80,"dy":-26,"color":"black"},"encoding":{"text":{"field":"label"}}},
{"transform":[{"filter":"datum.k==='zt'"}],"mark":{"type":"text","font":"Liberation Sans","fontSize":35,"align":"right","baseline":"middle","dx":-17,"dy":-15,"color":"black"},"encoding":{"text":{"field":"label"}}},
{"transform":[{"filter":"datum.k==='bt'"}],"mark":{"type":"text","font":"Liberation Sans","fontSize":35,"align":"right","baseline":"middle","dx":-18,"dy":21,"color":"black"},"encoding":{"text":{"field":"label"}}},
{"transform":[{"filter":"datum.k==='at'"}],"mark":{"type":"text","font":"Liberation Sans","fontSize":35,"align":"left","baseline":"middle","dx":22,"dy":21,"color":"black"},"encoding":{"text":{"field":"label"}}},
{"transform":[{"filter":"datum.k==='tb'"}],"mark":{"type":"text","font":"Liberation Sans","fontSize":47,"align":"center","baseline":"middle","dx":-419,"dy":183,"color":"black"},"encoding":{"text":{"field":"label"}}},
{"transform":[{"filter":"datum.k==='ta'"}],"mark":{"type":"text","font":"Liberation Sans","fontSize":46,"align":"center","baseline":"middle","dx":329,"dy":263,"color":"black"},"encoding":{"text":{"field":"label"}}},
{"transform":[{"filter":"datum.k==='tz'"}],"mark":{"type":"text","font":"Liberation Sans","fontSize":48,"align":"center","baseline":"middle","angle":270,"dx":-114,"dy":-403,"color":"black"},"encoding":{"text":{"field":"label"}}}
]}
]}
